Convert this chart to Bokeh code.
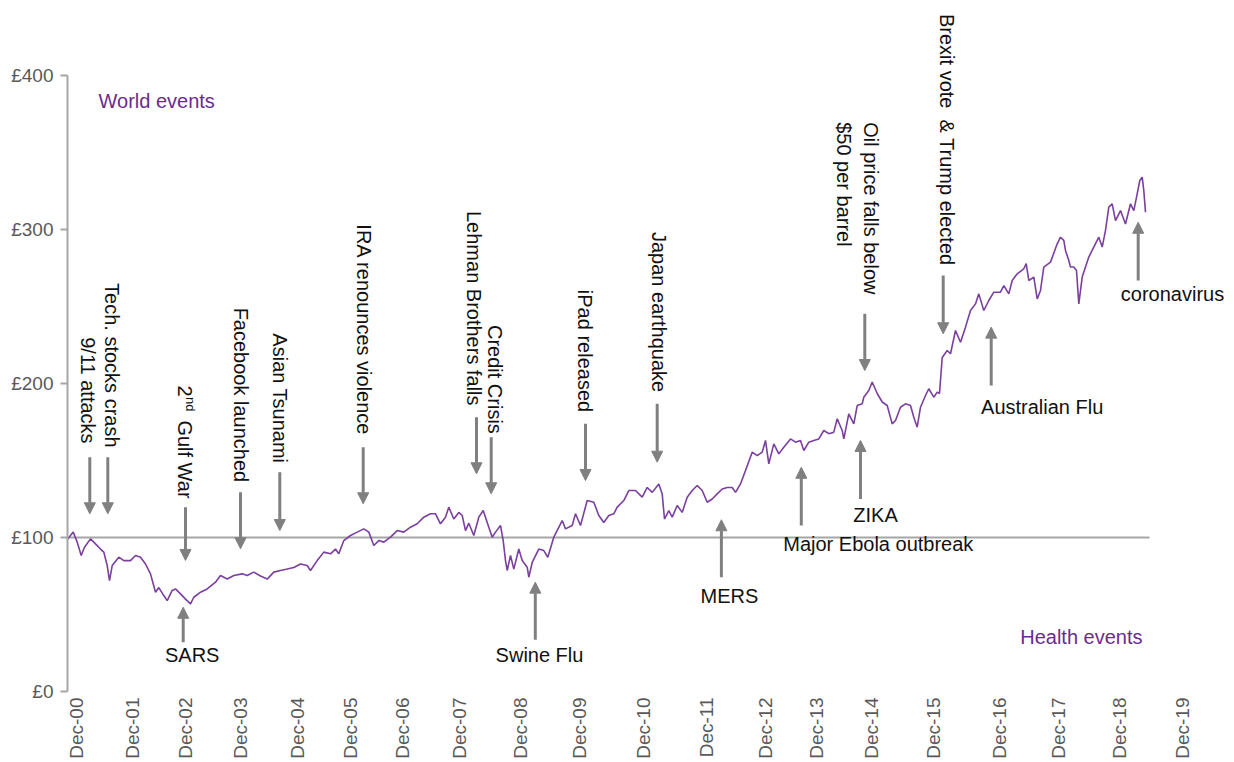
from math import pi
from bokeh.plotting import figure
from bokeh.models import Range1d, FixedTicker, Arrow, NormalHead
from bokeh.core.properties import value
from bokeh.embed import file_html
from bokeh.resources import INLINE

# ---- data: observation index along the original category axis, and fund value (£) ----
obs = [0.3, 5.7, 9.7, 13.7, 17, 23, 26.3, 33, 36.3, 39.7, 42, 44.7, 51.3, 56.3, 63, 68, 73, 78, 83, 88,
       91.3, 96.3, 99.7, 104.7, 108, 113, 118, 123, 126.3, 133, 139.7, 148, 153, 159.7, 166.3, 174.7,
       179.7, 186.3, 193, 199.7, 206.3, 213, 219.7, 226.3, 233, 239.7, 243, 249.7, 256.3, 263, 268,
       271.3, 276.3, 283, 289.7, 296.3, 301.3, 306.3, 311.3, 316.3, 323, 329.7, 336.3, 343, 349.7,
       356.3, 363, 368, 373, 378, 381.3, 386.3, 391.3, 394.7, 398, 401.3, 406.3, 411.3, 415.7, 419.7,
       424.7, 428, 433, 435.7, 438, 439.7, 443, 446.3, 451.3, 454.7, 459.7, 461.3, 464.7, 471.3, 476.3,
       480.3, 486.3, 494.7, 498, 504.7, 508, 513, 519.7, 526.3, 531.3, 536.3, 541.3, 546.3, 549.7,
       556.3, 561.3, 568, 574.7, 579.7, 584.7, 591.3, 594.7, 597, 601.3, 604.7, 609.7, 614.7, 619.7,
       624.7, 629.7, 634.7, 639.7, 644.7, 649.7, 654.7, 659.7, 664.7, 668, 673, 678, 684.7, 689.7,
       694.7, 698, 701.3, 706.3, 711.3, 716.3, 723, 728, 733, 736.3, 741.3, 746.3, 751.3, 756.3,
       761.3, 766.3, 769.7, 774.7, 776.3, 781.3, 786.3, 789.7, 794.7, 796.3, 801.3, 804.7, 809.7,
       814.7, 819.7, 824.7, 828, 833, 838, 843, 846.3, 849.7, 853, 858, 861.3, 866.3, 869.7, 872,
       874.7, 879.7, 883, 888, 893, 898, 903, 908, 911.3, 916.3, 921.3, 926.3, 933, 936.3, 941.3,
       944.7, 949.7, 956.3, 958.7, 961.3, 966.3, 969.7, 973, 976.3, 983, 989.7, 993, 996.3, 998,
       1001.3, 1003, 1006.3, 1009, 1011.3, 1014.7, 1018, 1021.3, 1026.3, 1031.3, 1034.7, 1038,
       1041.3, 1044.7, 1048, 1053, 1058, 1063, 1066.3, 1069.7, 1072.3, 1074.7, 1076.3, 1078]
price = [99.1, 103.5, 97, 88.3, 93.7, 99.1, 97, 92.5, 90.5, 81.8, 72, 81.8, 87.2, 85, 85, 88.3, 87.2,
         82.8, 76.4, 64.5, 67.5, 62.3, 59, 65.6, 66.6, 63.4, 60, 56.9, 61.2, 64.5, 66.6, 71, 75.3, 73,
         75.3, 76.4, 75.3, 77.5, 75, 73, 77.5, 78.6, 79.5, 80.5, 82.8, 81.8, 78.6, 85, 90.5, 89.4,
         92.5, 89.4, 98, 101.3, 103.5, 105.6, 103.5, 94.8, 98, 97, 100.2, 104.5, 103.5, 106.7, 108.9,
         113.2, 115.4, 115.4, 108.9, 113.2, 119.7, 112, 116.3, 114.3, 104.5, 109.3, 101.3, 113.2,
         117.5, 109.7, 100.2, 103.5, 107.8, 98, 85, 78.6, 88.3, 79.5, 92.5, 85, 80.7, 74.2, 83.8, 92.5,
         91.5, 87.2, 100.2, 111, 105.6, 107.8, 115.4, 107.8, 124, 122.9, 114.3, 109.7, 114.3, 115.4,
         119.7, 124, 130.5, 130.5, 126.2, 132.5, 129.3, 134.8, 128.3, 112, 117.5, 113.2, 120.8, 116.3,
         126.2, 130.5, 133.8, 130.5, 122.9, 125, 128.3, 131.5, 132.5, 132.5, 129.3, 134.8, 143.5,
         155.4, 153.2, 155.4, 163, 147.8, 160.8, 154.3, 158.6, 164, 161.9, 163, 156.5, 161.9, 163,
         164, 169.5, 167.4, 168.4, 177.1, 169.5, 164, 180.3, 173.8, 185.7, 186.8, 191.1, 195.5, 201,
         193.5, 188, 185.7, 173.8, 176, 184.6, 186.8, 185.7, 178.1, 171.6, 184.6, 192.2, 196.6, 191.1,
         194.4, 193.5, 216.9, 221.4, 219.3, 234.4, 226.8, 236.6, 247.4, 251.7, 258.2, 247.4, 253.9,
         259.3, 259.3, 263.6, 258.2, 266.9, 271.2, 274.5, 277.8, 266.9, 269.1, 254.9, 260.4, 275.6,
         278.8, 290.7, 295, 292.9, 286.4, 279.9, 275.6, 275.6, 273.4, 251.7, 269.1, 275.6, 282.1,
         288.6, 295, 288.6, 299.4, 314.5, 316.7, 305.8, 312.3, 303.6, 316.7, 312.3, 323.1, 331.8,
         334, 325.3, 311.2]

tick_obs = [9, 65, 118, 173, 230, 283, 335, 392, 453, 512, 576, 639, 698, 749, 804, 866, 932, 991, 1052, 1115]
tick_labels = ["Dec-00", "Dec-01", "Dec-02", "Dec-03", "Dec-04", "Dec-05", "Dec-06", "Dec-07",
               "Dec-08", "Dec-09", "Dec-10", "Dec-11", "Dec-12", "Dec-13", "Dec-14", "Dec-15",
               "Dec-16", "Dec-17", "Dec-18", "Dec-19"]
y_ticks = [0, 100, 200, 300, 400]
y_tick_labels = ["£0", "£100", "£200", "£300", "£400"]
base_value = 100

# world events: text, text x, text anchor y (bottom end), arrow x, arrow from y, arrow to y
world_events = [
    ("9/11 attacks", 20.5, 161.0, 22.3, 152.1, 115.4),
    ("Tech. stocks crash", 44.7, 158.4, 40.3, 152.1, 115.4),
    ("Gulf War", 117.5, 125.3, 118, 119.7, 85.1),
    ("Facebook launched", 173.5, 135.9, 173, 129.4, 92.7),
    ("Asian Tsunami", 212.5, 148.1, 212.3, 142.4, 104.5),
    ("IRA renounces violence", 296, 166.2, 295.7, 158.6, 121.9),
    ("Lehman Brothers falls", 406, 185.7, 409, 178.1, 141.4),
    ("Credit Crisis", 427, 167.3, 423.7, 165.1, 128.4),
    ("iPad released", 517, 181.4, 518, 173.8, 137.0),
    ("Japan earthquake", 591, 194.4, 589.7, 186.8, 148.9),
    ("Brexit vote\u00a0 & Trump elected", 879.7, 276.6, 875.7, 270.1, 232.3),
]
# top-anchored two-line event
oil_lines = [("Oil price falls below", 803, 369.7), ("$50 per barrel", 776, 369.7)]
oil_arrow = (797.3, 245.3, 208.4)

# health events: text, text x, text y, arrow x, arrow from y, arrow to y
health_events = [
    ("SARS", 124.7, 23.4, 115.7, 32.0, 54.7),
    ("Swine Flu", 472, 23.4, 467.8, 33.6, 71.0),
    ("MERS", 662, 62.3, 653.9, 74.2, 111.5),
    ("Major Ebola outbreak", 810.8, 95.5, 733.8, 107.8, 145.6),
    ("ZIKA", 808, 114.5, 793, 125, 163),
    ("Australian Flu", 974.7, 184.6, 923.7, 198.7, 236.6),
    ("coronavirus", 1105, 257.8, 1070.7, 266.9, 304.7),
]

FONT = value("Liberation Sans")
LINE_C = "#7b3f9e"
PURPLE_T = "#6a2c8e"
ARROW_C = "#808080"
TEXT_C = "#111111"

p = figure(width=1234, height=762, x_range=Range1d(0, 1165), y_range=Range1d(0, 448.7),
           output_backend="svg", toolbar_location=None,
           min_border_left=67, min_border_right=2, min_border_top=0, min_border_bottom=71)
p.xgrid.visible = False
p.ygrid.visible = False
p.outline_line_color = None
p.background_fill_color = "white"
p.border_fill_color = "white"

# y axis
ya = p.yaxis[0]
ya.ticker = FixedTicker(ticks=y_ticks)
ya.major_label_overrides = {t: l for t, l in zip(y_ticks, y_tick_labels)}
ya.bounds = (0, 400)
ya.axis_line_color = "#a6a6a6"
ya.axis_line_width = 2
ya.major_tick_line_color = "#a6a6a6"
ya.major_tick_line_width = 2
ya.major_tick_in = 0
ya.major_tick_out = 7
ya.minor_tick_line_color = None
ya.major_label_standoff = 7
ya.major_label_text_font = "Liberation Sans"
ya.major_label_text_font_size = "19px"
ya.major_label_text_color = "#595959"

# x axis
xa = p.xaxis[0]
xa.ticker = FixedTicker(ticks=tick_obs)
xa.major_label_overrides = {t: l for t, l in zip(tick_obs, tick_labels)}
xa.major_label_orientation = pi / 2
xa.axis_line_color = None
xa.major_tick_line_color = None
xa.minor_tick_line_color = None
xa.major_tick_in = 0
xa.major_tick_out = 0
xa.major_label_standoff = 6
xa.major_label_text_font = "Liberation Sans"
xa.major_label_text_font_size = "19px"
xa.major_label_text_color = "#595959"

# £100 reference line
p.segment(x0=[0], y0=[base_value], x1=[max(obs) + 4], y1=[base_value], line_color="#a6a6a6", line_width=2)

# fund line
p.line(obs, price, line_color=LINE_C, line_width=1.6)

def add_arrow(x, y0, y1):
    p.add_layout(Arrow(end=NormalHead(size=11, fill_color=ARROW_C, line_color=ARROW_C, line_width=1),
                       x_start=x, y_start=y0, x_end=x, y_end=y1,
                       line_color=ARROW_C, line_width=3))

for txt, tx, ty, ax, ay0, ay1 in world_events:
    p.text(x=[tx], y=[ty], text=[txt], angle=-pi / 2, text_align="right", text_baseline="middle",
           text_font=FONT, text_font_size="20px", text_color=TEXT_C)
    add_arrow(ax, ay0, ay1)

# superscript parts of "2nd Gulf War"
gx, gy = world_events[2][1], world_events[2][2]
p.text(x=[gx], y=[gy], text=["nd"], angle=-pi / 2, text_align="right", text_baseline="middle",
       x_offset=5, y_offset=-87, text_font=FONT, text_font_size="13px", text_color=TEXT_C)
p.text(x=[gx], y=[gy], text=["2"], angle=-pi / 2, text_align="right", text_baseline="middle",
       y_offset=-102, text_font=FONT, text_font_size="20px", text_color=TEXT_C)

for txt, tx, ty in oil_lines:
    p.text(x=[tx], y=[ty], text=[txt], angle=-pi / 2, text_align="left", text_baseline="middle",
           text_font=FONT, text_font_size="20px", text_color=TEXT_C)
add_arrow(*oil_arrow)

for txt, tx, ty, ax, ay0, ay1 in health_events:
    p.text(x=[tx], y=[ty], text=[txt], text_align="center", text_baseline="middle",
           text_font=FONT, text_font_size="20px", text_color=TEXT_C)
    add_arrow(ax, ay0, ay1)

p.text(x=[31], y=[383.4], text=["World events"], text_align="left", text_baseline="middle",
       text_font=FONT, text_font_size="20px", text_color=PURPLE_T)
p.text(x=[1075], y=[35.4], text=["Health events"], text_align="right", text_baseline="middle",
       text_font=FONT, text_font_size="20px", text_color=PURPLE_T)

open("out.html", "w").write(file_html(p, INLINE))
